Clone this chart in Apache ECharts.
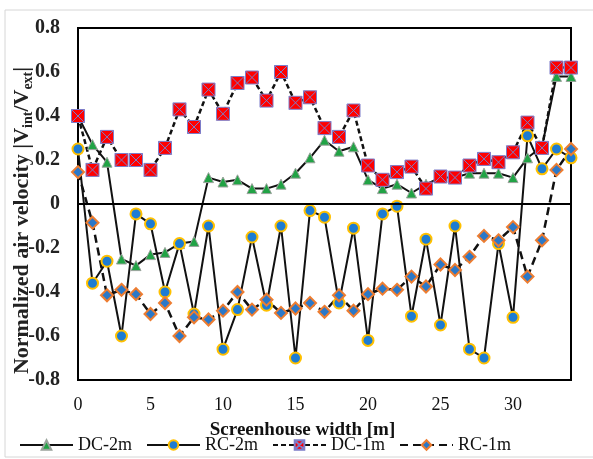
<!DOCTYPE html>
<html>
<head>
<meta charset="utf-8">
<script src="https://cdn.jsdelivr.net/npm/echarts@6/dist/echarts.min.js"></script>
<style>
  html, body { margin: 0; padding: 0; background: #fff; }
  #chart { width: 593px; height: 459px; }
</style>
</head>
<body>
<div id="chart"></div>
<script>
// positions across the screenhouse [m]
var xPos = [0, 1, 2, 3, 4, 5, 6, 7, 8, 9, 10, 11, 12, 13, 14, 15, 16, 17, 18, 19, 20,
  21, 22, 23, 24, 25, 26, 27, 28, 29, 30, 31, 32, 33, 34];
var xTicks = [0, 5, 10, 15, 20, 25, 30];

// normalized air velocity |Vint/Vext|
var dc2m = [0.40, 0.27, 0.19, -0.25, -0.28, -0.23, -0.22, -0.18, -0.17, 0.12, 0.10, 0.11, 0.07,
  0.07, 0.09, 0.14, 0.21, 0.29, 0.24, 0.26, 0.11, 0.07, 0.09, 0.05, 0.09, 0.12, 0.12, 0.14,
  0.14, 0.14, 0.12, 0.21, 0.26, 0.58, 0.58];
var rc2m = [0.25, -0.36, -0.26, -0.60, -0.045, -0.09, -0.40, -0.18, -0.50, -0.10, -0.66, -0.48,
  -0.15, -0.46, -0.10, -0.70, -0.03, -0.06, -0.45, -0.11, -0.62, -0.045, -0.01, -0.51, -0.16,
  -0.55, -0.10, -0.66, -0.70, -0.18, -0.515, 0.31, 0.16, 0.25, 0.21];
var dc1m = [0.40, 0.155, 0.305, 0.20, 0.20, 0.155, 0.255, 0.43, 0.35, 0.52, 0.41, 0.55, 0.575,
  0.47, 0.60, 0.46, 0.485, 0.345, 0.305, 0.425, 0.175, 0.11, 0.145, 0.17, 0.07, 0.125, 0.12,
  0.175, 0.205, 0.19, 0.235, 0.37, 0.255, 0.62, 0.62];
var rc1m = [0.145, -0.085, -0.415, -0.39, -0.41, -0.50, -0.45, -0.60, -0.515, -0.525, -0.485,
  -0.40, -0.48, -0.435, -0.495, -0.475, -0.45, -0.49, -0.415, -0.485, -0.41, -0.385, -0.39,
  -0.33, -0.375, -0.275, -0.30, -0.24, -0.145, -0.165, -0.105, -0.33, -0.165, 0.155, 0.25];

function pairs(vals) {
  return xPos.map(function (x, i) { return [x, vals[i]]; });
}

var serif = "'Liberation Serif', 'DejaVu Serif', serif";
var chart = echarts.init(document.getElementById("chart"));

var option = {
  animation: false,
  backgroundColor: "#fff",
  graphic: [{
    type: "rect",
    shape: { x: 5, y: 10, width: 600, height: 447 },
    style: { fill: "none", stroke: "#d6d6d6", lineWidth: 1 },
    silent: true
  }],
  grid: {
    left: 78, right: 22, top: 28, bottom: 79,
    outerBoundsMode: "none",
    show: true, borderColor: "#000", borderWidth: 2
  },
  legend: {
    left: 14, top: 431,
    itemWidth: 53, itemHeight: 12, itemGap: 14,
    textStyle: { fontFamily: serif, fontSize: 18, color: "#111" },
    data: ["DC-2m", "RC-2m", "DC-1m", "RC-1m"]
  },
  xAxis: {
    type: "value", min: 0, max: 34, interval: 5,
    name: "Screenhouse width [m]",
    nameLocation: "middle", nameGap: 41,
    nameTextStyle: { fontFamily: serif, fontSize: 19, fontWeight: "bold", color: "#111",
      padding: [0, 44, 0, 0] },
    axisLine: { show: false },
    axisTick: { show: false },
    splitLine: { show: false },
    axisLabel: {
      margin: 16, fontFamily: serif, fontSize: 18, color: "#111", showMaxLabel: false,
      formatter: function (v) { return xTicks.indexOf(v) >= 0 ? String(v) : ""; }
    }
  },
  yAxis: {
    type: "value", min: -0.8, max: 0.8, interval: 0.2,
    name: "Normalized air velocity |V{s|int}/V{s|ext}|",
    nameLocation: "middle", nameGap: 43, nameMoveOverlap: false,
    nameTextStyle: {
      fontFamily: serif, fontSize: 22, fontWeight: "bold", color: "#222",
      lineHeight: 26, padding: [0, 33, 0, 0],
      rich: { s: { fontFamily: serif, fontSize: 14, fontWeight: "bold", color: "#222",
        verticalAlign: "bottom", lineHeight: 16 } }
    },
    axisLine: { show: false },
    axisTick: { show: false },
    splitLine: { show: false },
    axisLabel: {
      margin: 18, fontFamily: serif, fontSize: 20, fontWeight: "bold", color: "#222",
      formatter: function (v) { return String(Number(v.toFixed(1))); }
    }
  },
  series: [
    {
      name: "DC-2m", type: "line", data: pairs(dc2m),
      symbol: "triangle", symbolSize: 10,
      lineStyle: { color: "#111", width: 2 },
      itemStyle: { color: "#21A345", borderColor: "#9aa39c", borderWidth: 1 },
      markLine: {
        silent: true, symbol: "none", label: { show: false },
        lineStyle: { color: "#000", width: 2, type: "solid" },
        data: [{ yAxis: 0 }]
      }
    },
    {
      name: "RC-2m", type: "line", data: pairs(rc2m),
      symbol: "circle", symbolSize: 11,
      lineStyle: { color: "#111", width: 2 },
      itemStyle: { color: "#1D7CD3", borderColor: "#FFC000", borderWidth: 2 }
    },
    {
      name: "DC-1m", type: "line", data: pairs(dc1m),
      symbol: "path://M0,0L10,0L10,10L0,10Z M0,0L10,10 M10,0L0,10", symbolSize: 13,
      lineStyle: { color: "#111", width: 2.5, type: [5, 3] },
      itemStyle: { color: "#FF0000", borderColor: "#7D7DC9", borderWidth: 1 }
    },
    {
      name: "RC-1m", type: "line", data: pairs(rc1m),
      symbol: "diamond", symbolSize: 12,
      lineStyle: { color: "#111", width: 2.5, type: [8, 5] },
      itemStyle: { color: "#2B78C8", borderColor: "#ED7D31", borderWidth: 2 }
    }
  ]
};

chart.setOption(option);
window.addEventListener("resize", function () { chart.resize(); });
</script>
</body>
</html>
